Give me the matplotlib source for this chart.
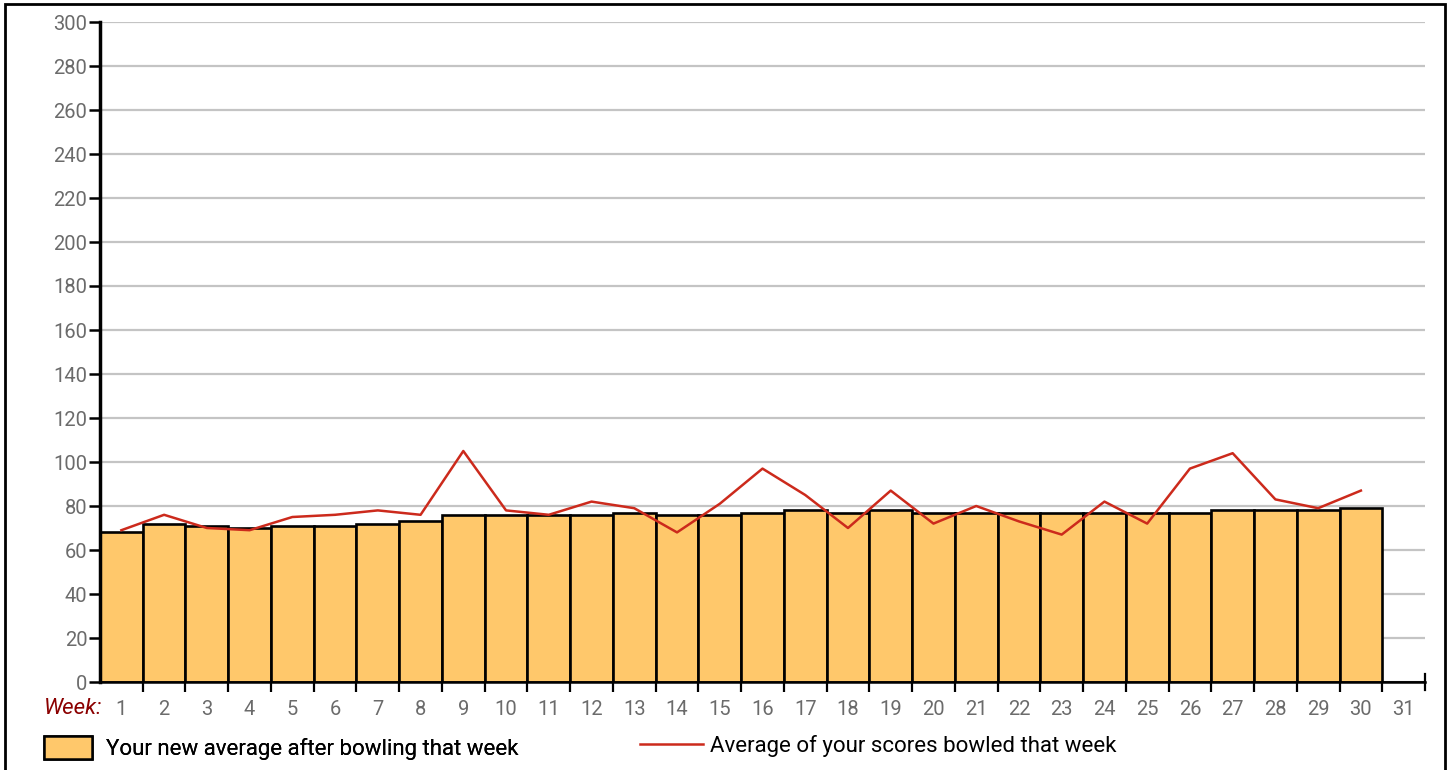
import matplotlib.pyplot as plt
from matplotlib.patches import Patch, Rectangle
from matplotlib.lines import Line2D

plt.rcParams['font.family'] = ['Roboto', 'DejaVu Sans']

# weekly data
weeks = list(range(1, 32))
new_average = [68, 72, 71, 70, 71, 71, 72, 73, 76, 76,
               76, 76, 77, 76, 76, 77, 78, 77, 78, 77,
               77, 77, 77, 77, 77, 77, 78, 78, 78, 79, 0]
week_scores = [69, 76, 70, 69, 75, 76, 78, 76, 105, 78,
               76, 82, 79, 68, 81, 97, 85, 70, 87, 72,
               80, 73, 67, 82, 72, 97, 104, 83, 79, 87]
y_ticks = list(range(0, 301, 20))

W, H = 1452, 770
fig = plt.figure(figsize=(W / 100, H / 100), dpi=100)
ax = fig.add_axes([100 / W, (H - 682) / H, 1325 / W, 660 / H])

ax.set_axisbelow(True)
ax.bar(weeks, new_average, width=1.0, color='#FFC86B', edgecolor='black', linewidth=1.9, zorder=2)
ax.plot(weeks[:len(week_scores)], week_scores, color='#CC2A1C', linewidth=1.8, zorder=3)

ax.set_xlim(0.5, 31.5)
ax.set_ylim(0, 300)
ax.set_yticks(y_ticks)
ax.yaxis.grid(True, color='#C4C4C4', linewidth=1.6)

ax.set_xticks(weeks)
ax.set_xticklabels([str(w) for w in weeks])
ax.set_xticks([w + 0.5 for w in weeks[:-1]], minor=True)
ax.tick_params(axis='x', which='major', length=0, pad=13, labelsize=14.5, labelcolor='#6b6b6b')
ax.tick_params(axis='x', which='minor', length=7, width=1.6, color='black')
ax.tick_params(axis='y', length=8, width=1.8, color='black', pad=1, labelsize=14.5, labelcolor='#6b6b6b')
ax.axvline(31.5, ymin=-0.012, ymax=0.012, color='black', linewidth=1.6, clip_on=False)

for side in ['top', 'right']:
    ax.spines[side].set_visible(False)
ax.spines['left'].set_linewidth(2.5)
ax.spines['bottom'].set_linewidth(1.8)

fig.text(44 / W, (H - 708) / H, 'Week:', color='#8B0000', style='italic', fontsize=16, va='center')

# legend, split in two so each handle keeps its own length
leg1 = fig.legend(handles=[Patch(facecolor='#FFC86B', edgecolor='black', linewidth=1.8)],
                  labels=['Your new average after bowling that week'],
                  loc='center left', bbox_to_anchor=(44 / W, (H - 748) / H), frameon=False,
                  fontsize=16, handlelength=2.16, handleheight=1.22, handletextpad=0.62,
                  borderpad=0, borderaxespad=0)
fig.legend(handles=[Line2D([], [], color='#CC2A1C', linewidth=1.8)],
           labels=['Average of your scores bowled that week'],
           loc='center left', bbox_to_anchor=(640 / W, (H - 746) / H), frameon=False,
           fontsize=16, handlelength=2.84, handletextpad=0.3, borderpad=0, borderaxespad=0)
fig.add_artist(leg1)

# outer frame
fig.patches.append(Rectangle((5 / W, -0.05), 1440 / W, (H - 4) / H + 0.05, transform=fig.transFigure,
                             fill=False, edgecolor='black', linewidth=2))

fig.savefig('out.png', dpi=100)
